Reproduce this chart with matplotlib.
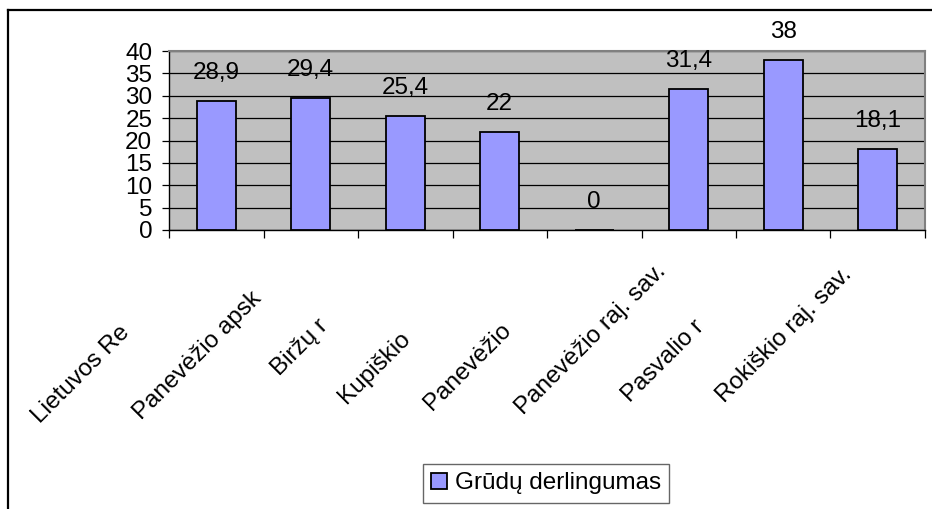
import matplotlib
matplotlib.use('Agg')
import matplotlib.pyplot as plt
from matplotlib.lines import Line2D

# ---- data ----
categories = ["Lietuvos Re", "Panevėžio apsk", "Biržų r", "Kupiškio",
              "Panevėžio", "Panevėžio raj. sav.", "Pasvalio r", "Rokiškio raj. sav."]
values = [28.9, 29.4, 25.4, 22, 0, 31.4, 38, 18.1]
value_labels = ["28,9", "29,4", "25,4", "22", "0", "31,4", "38", "18,1"]
y_ticks = [0, 5, 10, 15, 20, 25, 30, 35, 40]
series_name = "Grūdų derlingumas"

# ---- layout (pixel offsets of rotated category labels from category centre) ----
label_offsets = [(-176, -194), (-169, -190), (-126, -146), (-153, -174),
                 (-162, -181), (-165, -185), (-153, -173), (-153, -173)]

plt.rcParams['font.family'] = ['Liberation Sans', 'DejaVu Sans']
FS = 17.5

W, H = 932, 509
fig = plt.figure(figsize=(W / 100, H / 100), dpi=100)
fig.patch.set_facecolor('white')

left, right, top, bottom = 169, 925, 51, 230
ax = fig.add_axes([left / W, 1 - bottom / H, (right - left) / W, (bottom - top) / H])
ax.set_facecolor('#C0C0C0')

x = list(range(len(categories)))
ax.set_axisbelow(True)
bars = ax.bar(x, values, width=0.41, color='#9999FF', edgecolor='black',
              linewidth=1.3, label=series_name, zorder=3)

ax.set_xlim(-0.5, len(categories) - 0.5)
ax.set_ylim(0, 40)
ax.set_yticks(y_ticks)
ax.set_yticklabels([str(t) for t in y_ticks], fontsize=FS)
ax.yaxis.grid(True, color='black', linewidth=0.9)

ax.set_xticks([i - 0.5 for i in range(len(categories) + 1)])
ax.set_xticklabels([])
ax.tick_params(axis='x', direction='out', length=6, width=0.9, color='black')
ax.tick_params(axis='y', direction='out', length=5, width=0.9, color='black', pad=7)

for s in ['top', 'right']:
    ax.spines[s].set_color('#808080')
    ax.spines[s].set_linewidth(1.5)
for s in ['left', 'bottom']:
    ax.spines[s].set_color('black')
    ax.spines[s].set_linewidth(1.0)

# data labels
for xi, v, lab in zip(x, values, value_labels):
    ax.annotate(lab, xy=(xi, v), xytext=(0, 28), textcoords='offset pixels',
                ha='center', va='center', fontsize=FS, color='black',
                annotation_clip=False)

# rotated category labels
for xi, lab, (dx, dy) in zip(x, categories, label_offsets):
    ax.annotate(lab, xy=(xi, 0), xycoords=ax.get_xaxis_transform(),
                xytext=(dx, dy), textcoords='offset pixels',
                rotation=45, rotation_mode='anchor', ha='left', va='baseline',
                fontsize=FS, color='black', annotation_clip=False)

# legend
leg = fig.legend(handles=[bars], labels=[series_name], loc='center',
                 bbox_to_anchor=(546 / W, 1 - 483.5 / H), fontsize=FS,
                 frameon=True, fancybox=False, shadow=False,
                 handlelength=0.66, handleheight=0.66, handletextpad=0.3,
                 borderpad=0.35, borderaxespad=0)
leg.get_frame().set_edgecolor('#404040')
leg.get_frame().set_linewidth(1.0)

# outer chart frame (top and left edges visible)
fig.add_artist(Line2D([8 / W, 1], [1 - 10 / H, 1 - 10 / H], transform=fig.transFigure,
                      color='black', linewidth=1.6))
fig.add_artist(Line2D([8 / W, 8 / W], [0, 1 - 10 / H], transform=fig.transFigure,
                      color='black', linewidth=1.6))

fig.savefig('out.png', dpi=100, facecolor='white')
